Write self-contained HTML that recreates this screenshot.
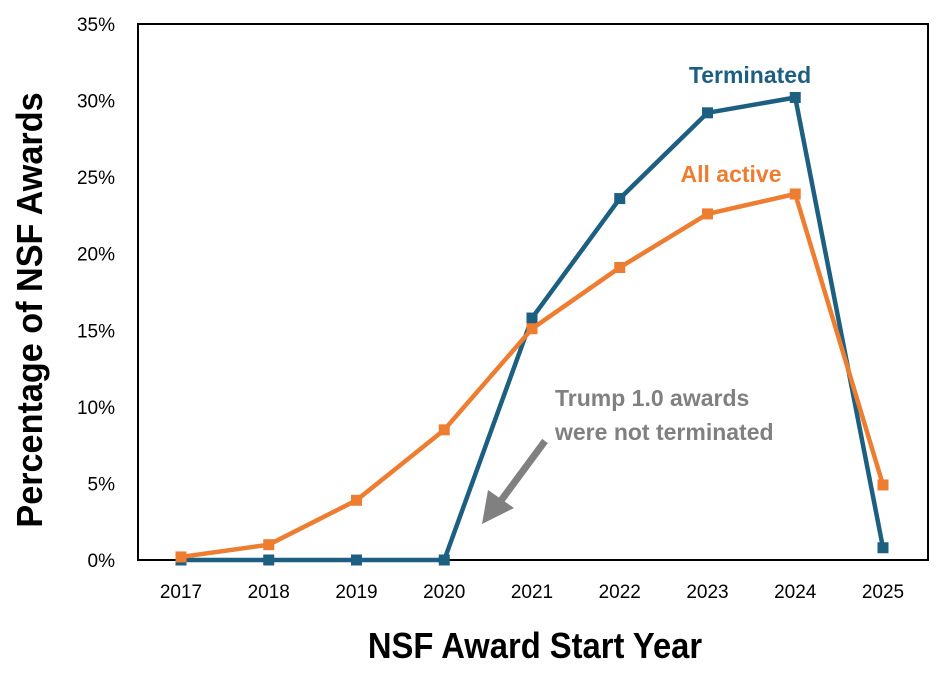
<!DOCTYPE html>
<html><head><meta charset="utf-8"><style>
body{margin:0;background:#fff}
svg{display:block;font-family:"Liberation Sans",sans-serif}
</style></head><body>
<svg width="942" height="676">
<rect x="138" y="24" width="790" height="536" fill="none" stroke="#000" stroke-width="2"/>
<g id="yticks"></g>
<g id="xticks"></g>
<g id="series"></g>
<text x="535" y="658" text-anchor="middle" font-size="36" font-weight="bold" transform="translate(535,0) scale(0.91,1) translate(-535,0)">NSF Award Start Year</text>
<text transform="translate(42,310) rotate(-90) scale(0.95,1)" text-anchor="middle" font-size="36" font-weight="bold">Percentage of NSF Awards</text>
<text x="750" y="83" text-anchor="middle" font-size="23" font-weight="bold" fill="#1d5f80">Terminated</text>
<text x="731" y="182" text-anchor="middle" font-size="23" font-weight="bold" fill="#ed7d31">All active</text>
<g fill="#808080" font-size="23" font-weight="bold">
<text x="555" y="406">Trump 1.0 awards</text>
<text x="555" y="440">were not terminated</text>
<line x1="545" y1="441" x2="500" y2="502" stroke="#808080" stroke-width="7"/>
<polygon points="482,524 488,490 514,508" fill="#808080"/>
</g>
</svg>
<script>
const years=["2017","2018","2019","2020","2021","2022","2023","2024","2025"];
const terminated=[0,0,0,0,15.8,23.6,29.2,30.2,0.8];
const allActive=[0.2,1.0,3.9,8.5,15.1,19.1,22.6,23.9,4.9];
const yTicks=[0,5,10,15,20,25,30,35];
const NS="http://www.w3.org/2000/svg";
const x=i=>181+i*87.75;
const y=v=>560-v*(536/35);
function mk(t,a,p){const e=document.createElementNS(NS,t);for(const k in a)e.setAttribute(k,a[k]);p.appendChild(e);return e;}
const yt=document.getElementById('yticks');
yTicks.forEach(v=>{const t=mk('text',{x:115,y:y(v)+7,'text-anchor':'end','font-size':19},yt);t.textContent=v+'%';

});
const xt=document.getElementById('xticks');
years.forEach((yr,i)=>{const t=mk('text',{x:x(i),y:598,'text-anchor':'middle','font-size':19},xt);t.textContent=yr;

});
const sg=document.getElementById('series');
function draw(vals,color,name){
const pl=mk('polyline',{points:vals.map((v,i)=>x(i)+','+y(v)).join(' '),fill:'none',stroke:color,'stroke-width':4.5,'stroke-linejoin':'round'},sg);


vals.forEach((v,i)=>{const r=mk('rect',{x:x(i)-5.5,y:y(v)-5.5,width:11,height:11,fill:color},sg);

});
}
draw(terminated,'#1d5f80','terminated');
draw(allActive,'#ed7d31','all-active');
</script>
</body></html>
